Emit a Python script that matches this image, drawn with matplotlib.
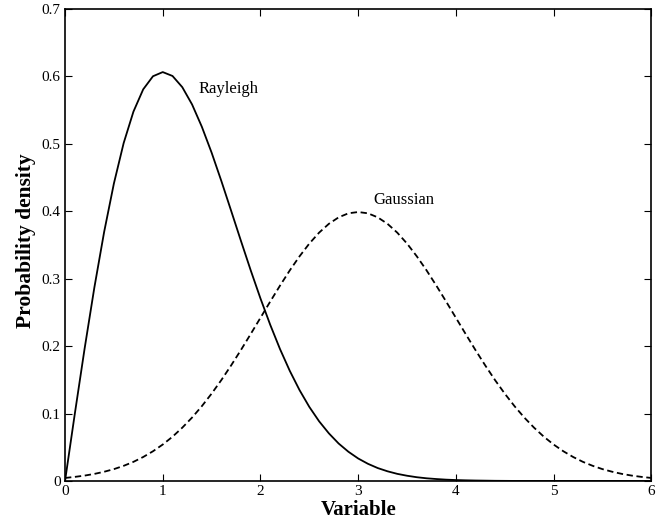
import matplotlib
matplotlib.use("Agg")
import matplotlib.pyplot as plt
import numpy as np

# values, x from 0 to 6 in steps of 0.1
x_values = [round(0.1 * i, 1) for i in range(61)]

rayleigh = [
    0.0, 0.0995, 0.1960, 0.2868, 0.3692, 0.4412, 0.5012, 0.5478, 0.5809, 0.6003,
    0.6065, 0.6007, 0.5841, 0.5585, 0.5254, 0.4870, 0.4448, 0.4007, 0.3562, 0.3125,
    0.2707, 0.2316, 0.1956, 0.1633, 0.1347, 0.1098, 0.0885, 0.0706, 0.0555, 0.0433,
    0.0333, 0.0254, 0.0191, 0.0143, 0.0105, 0.0077, 0.0055, 0.0039, 0.0028, 0.0019,
    0.0013, 0.0009, 0.0006, 0.0004, 0.0002, 0.0001, 0.0, 0.0, 0.0, 0.0,
    0.0, 0.0, 0.0, 0.0, 0.0, 0.0, 0.0, 0.0, 0.0, 0.0,
    0.0,
]

gaussian = [
    0.0044, 0.0060, 0.0079, 0.0104, 0.0136, 0.0175, 0.0224, 0.0283, 0.0355, 0.0440,
    0.0540, 0.0656, 0.0790, 0.0940, 0.1109, 0.1295, 0.1497, 0.1714, 0.1942, 0.2179,
    0.2420, 0.2661, 0.2897, 0.3123, 0.3332, 0.3521, 0.3683, 0.3814, 0.3910, 0.3970,
    0.3989, 0.3970, 0.3910, 0.3814, 0.3683, 0.3521, 0.3332, 0.3123, 0.2897, 0.2661,
    0.2420, 0.2179, 0.1942, 0.1714, 0.1497, 0.1295, 0.1109, 0.0940, 0.0790, 0.0656,
    0.0540, 0.0440, 0.0355, 0.0283, 0.0224, 0.0175, 0.0136, 0.0104, 0.0079, 0.0060,
    0.0044,
]

x_ticks = [0, 1, 2, 3, 4, 5, 6]
y_ticks = [0, 0.1, 0.2, 0.3, 0.4, 0.5, 0.6, 0.7]
y_tick_labels = ["0", "0.1", "0.2", "0.3", "0.4", "0.5", "0.6", "0.7"]

plt.rcParams["font.family"] = ["Liberation Serif", "DejaVu Serif"]

fig = plt.figure(figsize=(6.67, 5.32), dpi=100)
ax = fig.add_axes([0.0975, 0.096, 0.879, 0.887])

ax.plot(x_values, rayleigh, color="black", linewidth=1.3)
ax.plot(x_values, gaussian, color="black", linewidth=1.3,
        linestyle=(0, (3.5, 2)))

ax.text(1.37, 0.581, "Rayleigh", fontsize=12, ha="left", va="center")
ax.text(3.16, 0.417, "Gaussian", fontsize=12, ha="left", va="center")

ax.set_xlim(0, 6)
ax.set_ylim(0, 0.7)
ax.set_xticks(x_ticks)
ax.set_yticks(y_ticks)
ax.set_yticklabels(y_tick_labels)
ax.tick_params(direction="in", length=5, width=0.8, top=True, right=True,
               labelsize=11, pad=3)

for side in ax.spines.values():
    side.set_linewidth(1.2)

ax.set_xlabel("Variable", fontsize=15, fontweight="bold", va="top")
ax.set_ylabel("Probability density", fontsize=15.5, fontweight="bold",
              va="center", ha="center")
ax.xaxis.set_label_coords(0.5, -0.041)
ax.yaxis.set_label_coords(-0.066, 0.51)

fig.savefig("out.png", dpi=100)
